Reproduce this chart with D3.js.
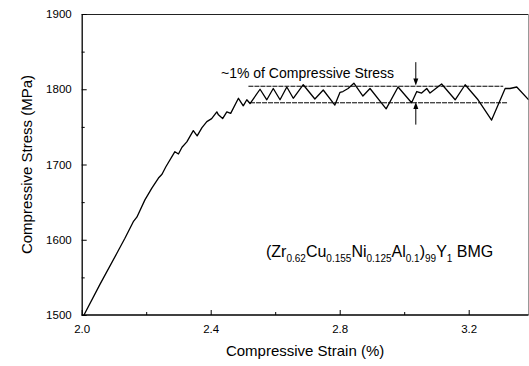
<!DOCTYPE html>
<html>
<head>
<meta charset="utf-8">
<script src="https://cdn.jsdelivr.net/npm/d3@7/dist/d3.min.js"></script>
<style>
  html, body { margin: 0; padding: 0; background: #fff; }
  svg { display: block; }
  text { font-family: "Liberation Sans", Arial, sans-serif; fill: #000; }
</style>
</head>
<body>
<svg id="chart" width="529" height="366"></svg>
<script>
// ---- data ----
const strain = [2.007, 2.057, 2.109, 2.134, 2.160, 2.171, 2.196, 2.218, 2.238, 2.249, 2.261,
  2.289, 2.300, 2.311, 2.326, 2.346, 2.358, 2.373, 2.388, 2.403, 2.419, 2.424, 2.437, 2.450,
  2.462, 2.486, 2.501, 2.512, 2.522, 2.553, 2.574, 2.594, 2.615, 2.636, 2.656, 2.687, 2.723,
  2.749, 2.785, 2.801, 2.810, 2.826, 2.844, 2.872, 2.894, 2.944, 2.981, 3.023, 3.039, 3.054,
  3.070, 3.080, 3.116, 3.158, 3.189, 3.229, 3.271, 3.313, 3.328, 3.349, 3.386];
const stress = [1500, 1541, 1582, 1602, 1624, 1630, 1653, 1669, 1682, 1687, 1697,
  1717, 1714, 1723, 1730, 1745, 1738, 1749, 1757, 1761, 1770, 1766, 1761, 1770,
  1768, 1788, 1778, 1786, 1781, 1800, 1786, 1801, 1786, 1803, 1788, 1806, 1787,
  1799, 1779, 1796, 1797, 1801, 1808, 1791, 1801, 1774, 1803, 1782, 1797, 1795,
  1801, 1795, 1807, 1786, 1806, 1786, 1759, 1801, 1801, 1803, 1786];

const xMajorTicks = [2.0, 2.4, 2.8, 3.2];
const xMajorLabels = ["2.0", "2.4", "2.8", "3.2"];
const xMinorTicks = [2.2, 2.6, 3.0];
const yMajorTicks = [1500, 1600, 1700, 1800, 1900];
const yMajorLabels = ["1500", "1600", "1700", "1800", "1900"];
const yMinorTicks = [1550, 1650, 1750, 1850];

const bandUpper = { stress: 1804, from: 2.517, to: 3.307 };
const bandLower = { stress: 1782, from: 2.522, to: 3.322 };
const arrowStrain = 3.036;
const arrowDown = [1836, 1805];
const arrowUp = [1753, 1783];

const xTitle = "Compressive Strain (%)";
const yTitle = "Compressive Stress (MPa)";
const noteText = "~1% of Compressive Stress";
const formulaParts = [
  ["(Zr", false], ["0.62", true], ["Cu", false], ["0.155", true], ["Ni", false], ["0.125", true],
  ["Al", false], ["0.1", true], [")", false], ["99", true], ["Y", false], ["1", true], [" BMG", false]
];

// ---- layout ----
const pL = 81.7, pR = 528.5, pT = 14, pB = 315;
const x = d3.scaleLinear().domain([2.0, 3.4]).range([pL, pL + 451.5]);
const y = d3.scaleLinear().domain([1500, 1900]).range([pB, pT]);

const svg = d3.select("#chart");

svg.append("defs").append("clipPath").attr("id", "clip")
  .append("rect").attr("x", pL).attr("y", pT).attr("width", pR - pL).attr("height", pB - pT);

// frame top and right
svg.append("line").attr("x1", pL).attr("x2", pR).attr("y1", pT + 0.5).attr("y2", pT + 0.5)
  .attr("stroke", "#222").attr("stroke-width", 1.2);
svg.append("line").attr("x1", pR).attr("x2", pR).attr("y1", pT).attr("y2", pB)
  .attr("stroke", "#999").attr("stroke-width", 1);

// axes
const tickFont = 11.5;
const gx = svg.append("g").attr("transform", `translate(0,${pB})`)
  .call(d3.axisBottom(x).tickValues(xMajorTicks).tickFormat((d, i) => xMajorLabels[i])
    .tickSizeInner(-5).tickSizeOuter(0).tickPadding(10));
svg.append("g").attr("transform", `translate(0,${pB})`)
  .call(d3.axisBottom(x).tickValues(xMinorTicks).tickFormat("")
    .tickSizeInner(-3).tickSizeOuter(0))
  .select(".domain").remove();
const gy = svg.append("g").attr("transform", `translate(${pL},0)`)
  .call(d3.axisLeft(y).tickValues(yMajorTicks).tickFormat((d, i) => yMajorLabels[i])
    .tickSizeInner(-5).tickSizeOuter(0).tickPadding(10));
svg.append("g").attr("transform", `translate(${pL},0)`)
  .call(d3.axisLeft(y).tickValues(yMinorTicks).tickFormat("")
    .tickSizeInner(-3).tickSizeOuter(0))
  .select(".domain").remove();

gx.select(".domain").attr("d", `M${pL},0H${pR}`);
svg.selectAll(".domain").attr("stroke", "#000").attr("stroke-width", 1.3);
svg.selectAll(".tick line").attr("stroke", "#000").attr("stroke-width", 1);
svg.selectAll(".tick text").attr("font-size", tickFont)
  .attr("font-family", "Liberation Sans, Arial, sans-serif").attr("fill", "#000");

// axis titles
svg.append("text").attr("x", (pL + pR) / 2).attr("y", 356)
  .attr("text-anchor", "middle").attr("font-size", 15).text(xTitle);
svg.append("text").attr("transform", `translate(32,${(pT + pB) / 2}) rotate(-90)`)
  .attr("text-anchor", "middle").attr("font-size", 15).text(yTitle);

// curve
svg.append("path")
  .datum(strain.map((s, i) => [s, stress[i]]))
  .attr("clip-path", "url(#clip)")
  .attr("fill", "none").attr("stroke", "#000").attr("stroke-width", 1.3)
  .attr("stroke-linejoin", "round")
  .attr("d", d3.line().x(d => x(d[0])).y(d => y(d[1])));

// band lines
[bandUpper, bandLower].forEach(b => {
  svg.append("line").attr("x1", x(b.from)).attr("x2", x(b.to))
    .attr("y1", y(b.stress)).attr("y2", y(b.stress))
    .attr("stroke", "#000").attr("stroke-width", 1).attr("stroke-dasharray", "5,1");
});

// arrows
function arrow(fromV, toV) {
  const ax = x(arrowStrain);
  const y0 = y(fromV), y1 = y(toV);
  const dir = Math.sign(y1 - y0);
  svg.append("line").attr("x1", ax).attr("x2", ax).attr("y1", y0).attr("y2", y1 - dir * 5)
    .attr("stroke", "#000").attr("stroke-width", 1);
  svg.append("path")
    .attr("d", `M${ax},${y1} L${ax - 2.5},${y1 - dir * 7} L${ax + 2.5},${y1 - dir * 7} Z`)
    .attr("fill", "#000");
}
arrow(arrowDown[0], arrowDown[1]);
arrow(arrowUp[0], arrowUp[1]);

// note
svg.append("text").attr("x", 221).attr("y", 78).attr("font-size", 14).text(noteText);

// formula
const ft = svg.append("text").attr("x", 266).attr("y", 257).attr("font-size", 16);
let isSub = false;
formulaParts.forEach(([t, sub]) => {
  const ts = ft.append("tspan").text(t);
  if (sub && !isSub) { ts.attr("dy", 5).attr("font-size", 10); }
  else if (sub) { ts.attr("font-size", 10); }
  else if (!sub && isSub) { ts.attr("dy", -5); }
  isSub = sub;
});
</script>
</body>
</html>
